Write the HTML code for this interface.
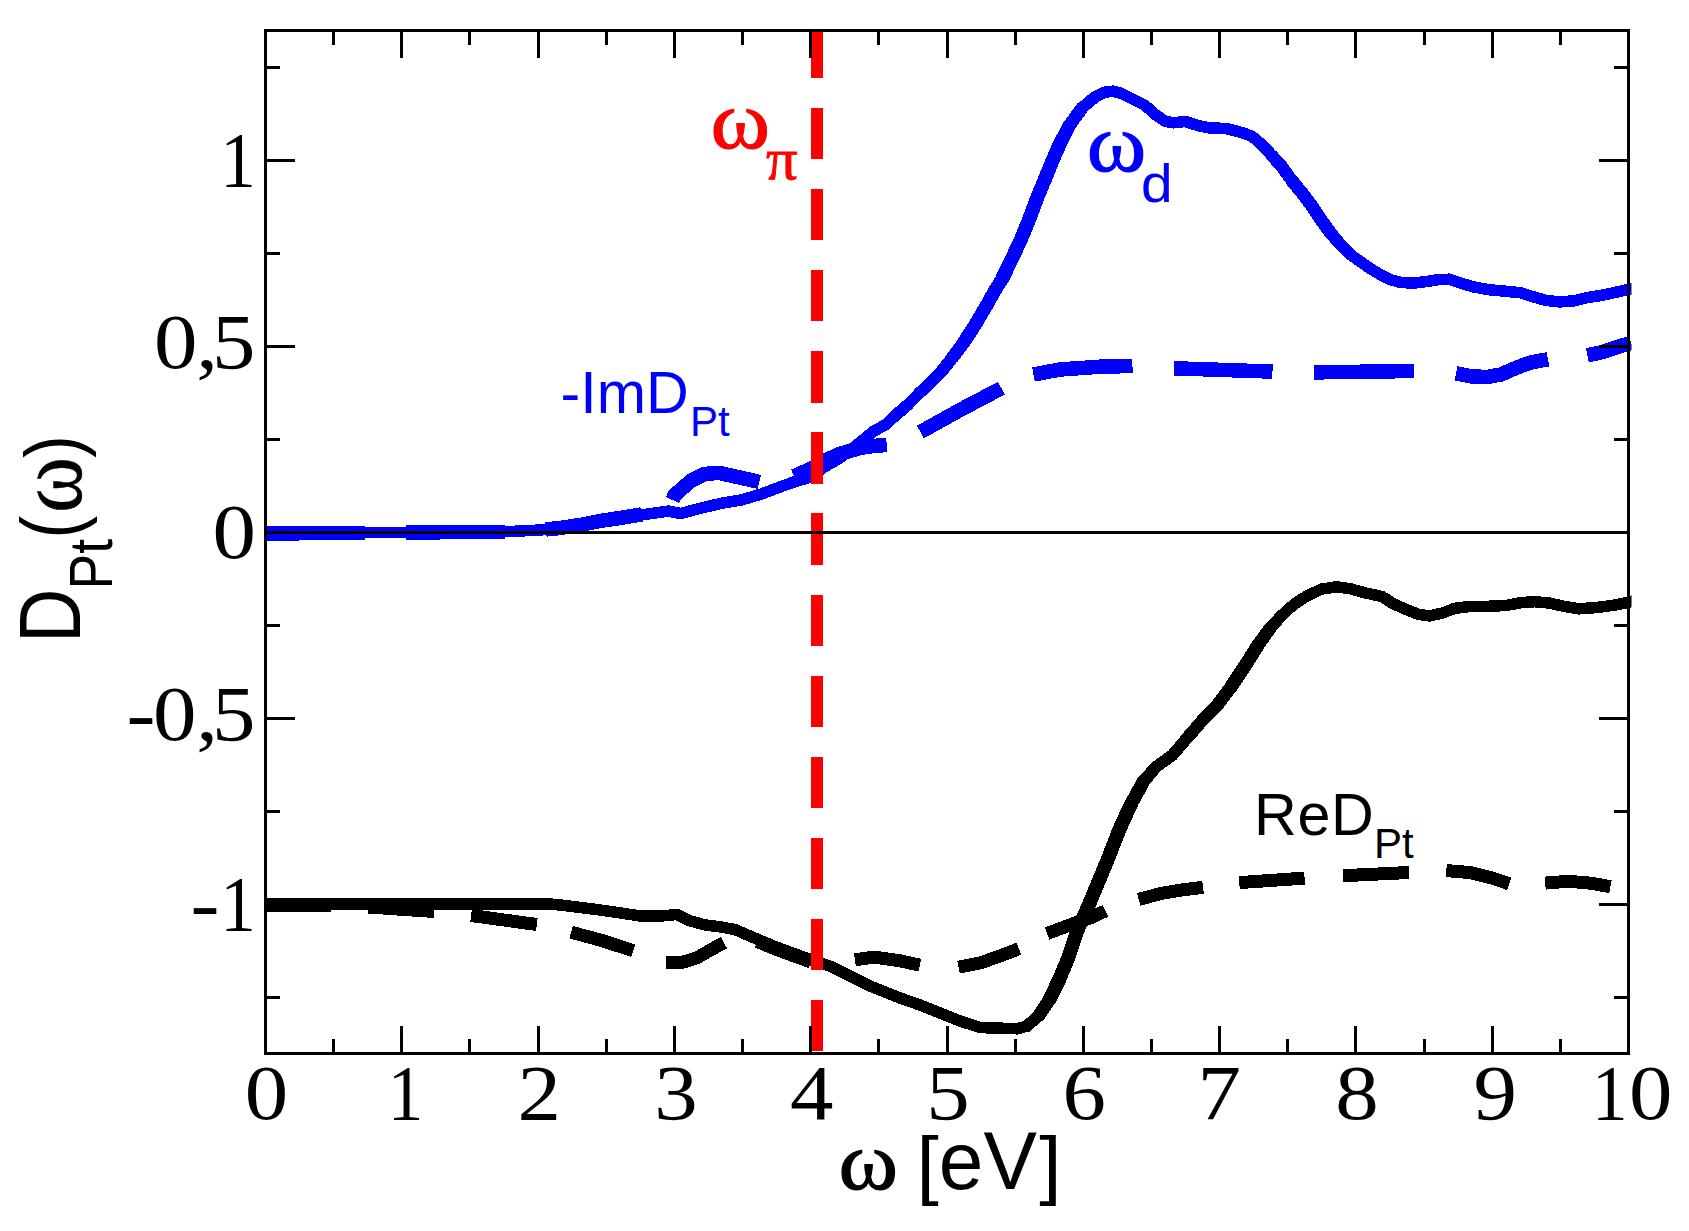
<!DOCTYPE html>
<html lang="en"><head><meta charset="utf-8"><title>D_Pt(omega)</title>
<style>html,body{margin:0;padding:0;background:#fff;}body{width:1689px;height:1231px;overflow:hidden;}svg{display:block;}.ser{font-family:"Liberation Serif",serif;}.san{font-family:"Liberation Sans",sans-serif;}</style></head><body>
<svg width="1689" height="1231" viewBox="0 0 1689 1231" shape-rendering="crispEdges">
<rect x="0" y="0" width="1689" height="1231" fill="#fff"/>
<defs><clipPath id="cc"><rect x="265.5" y="0" width="1366" height="1231"/></clipPath></defs>
<g clip-path="url(#cc)">
<path d="M265.5 905.0 L331.5 906.0" fill="none" stroke="#000" stroke-width="13" stroke-linejoin="round"/>
<path d="M368.1 907.0 L434.1 911.5" fill="none" stroke="#000" stroke-width="13" stroke-linejoin="round"/>
<path d="M471.1 915.5 L536.8 924.5" fill="none" stroke="#000" stroke-width="13" stroke-linejoin="round"/>
<path d="M571.1 932.2 L602.3 940.6 L633.3 950.9" fill="none" stroke="#000" stroke-width="13" stroke-linejoin="round"/>
<path d="M666.1 962.8 L680.8 962.8 L696.9 957.8 L711.0 949.7 L724.0 942.7" fill="none" stroke="#000" stroke-width="13" stroke-linejoin="round"/>
<path d="M757.3 941.5 L771.4 947.5 L791.5 955.0 L811.0 962.0" fill="none" stroke="#000" stroke-width="13" stroke-linejoin="round"/>
<path d="M854.9 959.8 L874.0 957.1 L900.1 960.8 L919.9 965.2" fill="none" stroke="#000" stroke-width="13" stroke-linejoin="round"/>
<path d="M958.5 967.2 L980.6 962.8 L1000.8 955.7 L1018.9 948.7" fill="none" stroke="#000" stroke-width="13" stroke-linejoin="round"/>
<path d="M1047.1 933.6 L1071.2 924.5 L1091.4 917.5 L1105.4 910.9" fill="none" stroke="#000" stroke-width="13" stroke-linejoin="round"/>
<path d="M1138.7 899.4 L1161.8 893.3 L1181.9 889.9 L1203.1 887.3" fill="none" stroke="#000" stroke-width="13" stroke-linejoin="round"/>
<path d="M1239.3 882.6 L1304.6 878.1" fill="none" stroke="#000" stroke-width="13" stroke-linejoin="round"/>
<path d="M1343.2 875.7 L1409.0 872.5" fill="none" stroke="#000" stroke-width="13" stroke-linejoin="round"/>
<path d="M1446.3 870.6 L1469.8 872.5 L1491.1 877.8 L1509.2 883.9" fill="none" stroke="#000" stroke-width="13" stroke-linejoin="round"/>
<path d="M1545.2 883.1 L1568.4 881.3 L1589.7 883.1 L1610.5 886.6" fill="none" stroke="#000" stroke-width="13" stroke-linejoin="round"/>
<path d="M255.0 904.2 L551.9 904.2 L560.0 905.0 L580.1 907.4 L600.3 910.0 L620.4 912.9 L640.5 916.1 L660.6 916.1 L676.7 914.5 L688.8 920.5 L704.9 924.9 L721.0 927.0 L735.1 929.6 L751.2 936.6 L771.4 945.1 L791.5 952.7 L817.0 961.8 L831.7 966.8 L851.9 976.9 L872.0 986.9 L900.1 998.0 L920.3 1005.1 L940.4 1013.1 L960.5 1021.2 L980.6 1027.6 L1000.8 1028.2 L1016.9 1028.8 L1026.9 1026.2" fill="none" stroke="#000" stroke-width="11.5" stroke-linejoin="round" stroke-linecap="round"/>
<path d="M1026.9 1026.2 L1039.0 1015.1" fill="none" stroke="#000" stroke-width="12.0" stroke-linejoin="round" stroke-linecap="round"/>
<path d="M1039.0 1015.1 L1049.8 999.0" fill="none" stroke="#000" stroke-width="13.0" stroke-linejoin="round" stroke-linecap="round"/>
<path d="M1049.8 999.0 L1059.5 978.9 L1068.7 956.7 L1077.3 930.6 L1087.3 908.4 L1097.4 884.3 L1107.5 860.1 L1119.0 830.5 L1131.2 803.7" fill="none" stroke="#000" stroke-width="14.0" stroke-linejoin="round" stroke-linecap="round"/>
<path d="M1131.2 803.7 L1143.4 781.8" fill="none" stroke="#000" stroke-width="13.5" stroke-linejoin="round" stroke-linecap="round"/>
<path d="M1143.4 781.8 L1155.6 767.2" fill="none" stroke="#000" stroke-width="12.5" stroke-linejoin="round" stroke-linecap="round"/>
<path d="M1155.6 767.2 L1172.6 755.0 L1187.2 737.9" fill="none" stroke="#000" stroke-width="12.0" stroke-linejoin="round" stroke-linecap="round"/>
<path d="M1187.2 737.9 L1201.9 720.9 L1216.5 706.2" fill="none" stroke="#000" stroke-width="12.5" stroke-linejoin="round" stroke-linecap="round"/>
<path d="M1216.5 706.2 L1231.1 686.7" fill="none" stroke="#000" stroke-width="13.0" stroke-linejoin="round" stroke-linecap="round"/>
<path d="M1231.1 686.7 L1245.7 664.8 L1257.9 645.3" fill="none" stroke="#000" stroke-width="13.5" stroke-linejoin="round" stroke-linecap="round"/>
<path d="M1257.9 645.3 L1270.1 628.2" fill="none" stroke="#000" stroke-width="13.0" stroke-linejoin="round" stroke-linecap="round"/>
<path d="M1270.1 628.2 L1282.3 614.8" fill="none" stroke="#000" stroke-width="12.0" stroke-linejoin="round" stroke-linecap="round"/>
<path d="M1282.3 614.8 L1294.5 603.9 L1306.7 596.1 L1321.3 589.2 L1335.9 586.8 L1350.5 588.8 L1365.2 592.9 L1382.2 596.6 L1393.3 603.8 L1406.5 609.6 L1418.1 614.3 L1429.7 615.9 L1443.0 612.9 L1454.6 608.3 L1469.5 606.6 L1487.8 606.3 L1506.0 605.5 L1520.9 602.7 L1534.2 601.7 L1549.1 603.0 L1562.4 606.0 L1579.0 608.8 L1595.5 607.6 L1612.1 605.5 L1625.4 603.0 L1640.0 599.0" fill="none" stroke="#000" stroke-width="11.5" stroke-linejoin="round" stroke-linecap="round"/>
<path d="M265.5 533.5 L364.6 532.8" fill="none" stroke="#0000ff" stroke-width="14.5" stroke-linejoin="round"/>
<path d="M406.0 532.5 L504.6 531.8" fill="none" stroke="#0000ff" stroke-width="14.5" stroke-linejoin="round"/>
<path d="M545.8 529.5 L560.0 528.0 L580.0 525.0 L600.0 521.0 L620.0 518.0 L641.5 514.5" fill="none" stroke="#0000ff" stroke-width="14.5" stroke-linejoin="round"/>
<path d="M672.5 500.0 L674.7 495.0 L690.8 480.9 L704.9 473.9 L719.0 472.9 L737.1 476.9 L759.3 481.9" fill="none" stroke="#0000ff" stroke-width="14.5" stroke-linejoin="round"/>
<path d="M794.0 476.2 L811.2 468.8 L823.1 461.4 L839.6 454.0 L851.0 450.5 L862.3 447.5 L874.0 446.0 L886.8 444.9" fill="none" stroke="#0000ff" stroke-width="14.5" stroke-linejoin="round"/>
<path d="M920.4 432.0 L960.0 410.0 L1001.4 388.2" fill="none" stroke="#0000ff" stroke-width="14.5" stroke-linejoin="round"/>
<path d="M1033.5 374.5 L1060.0 369.5 L1100.0 366.7 L1132.5 366.0" fill="none" stroke="#0000ff" stroke-width="14.5" stroke-linejoin="round"/>
<path d="M1174.0 368.3 L1272.5 371.6" fill="none" stroke="#0000ff" stroke-width="14.5" stroke-linejoin="round"/>
<path d="M1314.1 372.4 L1413.7 371.0" fill="none" stroke="#0000ff" stroke-width="14.5" stroke-linejoin="round"/>
<path d="M1456.0 373.4 L1471.1 376.4 L1487.2 377.0 L1501.3 374.4 L1517.4 367.3 L1531.5 362.3 L1548.0 359.3" fill="none" stroke="#0000ff" stroke-width="14.5" stroke-linejoin="round"/>
<path d="M1587.4 355.2 L1602.0 352.2 L1618.0 346.8 L1631.1 342.8" fill="none" stroke="#0000ff" stroke-width="14.5" stroke-linejoin="round"/>
<path d="M255.0 532.8 L480.0 532.6 L500.0 532.0 L520.0 531.0 L540.0 530.0 L560.0 528.4 L580.0 525.5 L600.3 521.2 L640.5 515.1 L668.7 511.1 L680.8 513.5 L700.9 508.1 L721.0 503.4 L741.2 500.0 L761.3 494.0 L781.4 486.5 L794.0 482.0 L811.2 476.9 L823.1 467.8 L839.6 458.0 L851.0 449.5 L862.3 440.6 L873.7 431.2 L886.2 424.3 L897.2 413.9" fill="none" stroke="#0000ff" stroke-width="11.5" stroke-linejoin="round" stroke-linecap="round"/>
<path d="M897.2 413.9 L908.4 404.3" fill="none" stroke="#0000ff" stroke-width="12.0" stroke-linejoin="round" stroke-linecap="round"/>
<path d="M908.4 404.3 L919.0 393.3" fill="none" stroke="#0000ff" stroke-width="11.5" stroke-linejoin="round" stroke-linecap="round"/>
<path d="M919.0 393.3 L929.4 384.0 L941.4 371.6" fill="none" stroke="#0000ff" stroke-width="12.0" stroke-linejoin="round" stroke-linecap="round"/>
<path d="M941.4 371.6 L952.5 357.5" fill="none" stroke="#0000ff" stroke-width="12.5" stroke-linejoin="round" stroke-linecap="round"/>
<path d="M952.5 357.5 L963.8 342.4" fill="none" stroke="#0000ff" stroke-width="13.0" stroke-linejoin="round" stroke-linecap="round"/>
<path d="M963.8 342.4 L975.0 325.0 L985.9 306.6 L994.0 292.0 L1002.3 278.5" fill="none" stroke="#0000ff" stroke-width="13.5" stroke-linejoin="round" stroke-linecap="round"/>
<path d="M1002.3 278.5 L1011.8 259.0 L1020.9 239.5 L1028.9 220.0 L1037.4 197.3 L1044.8 179.5 L1052.1 161.5 L1060.0 143.5" fill="none" stroke="#0000ff" stroke-width="14.0" stroke-linejoin="round" stroke-linecap="round"/>
<path d="M1060.0 143.5 L1069.1 125.8" fill="none" stroke="#0000ff" stroke-width="13.5" stroke-linejoin="round" stroke-linecap="round"/>
<path d="M1069.1 125.8 L1082.1 107.9" fill="none" stroke="#0000ff" stroke-width="13.0" stroke-linejoin="round" stroke-linecap="round"/>
<path d="M1082.1 107.9 L1094.7 97.2" fill="none" stroke="#0000ff" stroke-width="12.0" stroke-linejoin="round" stroke-linecap="round"/>
<path d="M1094.7 97.2 L1104.8 92.2 L1112.9 91.2 L1120.9 93.2 L1133.0 99.3 L1145.0 105.3 L1155.1 114.3 L1165.2 121.4 L1173.2 122.8 L1185.3 121.4 L1197.4 125.4 L1209.5 128.0 L1225.6 128.4 L1241.7 132.5 L1251.7 136.1 L1261.8 144.5" fill="none" stroke="#0000ff" stroke-width="11.5" stroke-linejoin="round" stroke-linecap="round"/>
<path d="M1261.8 144.5 L1271.9 155.6" fill="none" stroke="#0000ff" stroke-width="12.0" stroke-linejoin="round" stroke-linecap="round"/>
<path d="M1271.9 155.6 L1281.9 166.7 L1292.0 180.8" fill="none" stroke="#0000ff" stroke-width="12.5" stroke-linejoin="round" stroke-linecap="round"/>
<path d="M1292.0 180.8 L1302.0 192.9 L1310.0 203.3 L1320.1 218.4 L1330.2 232.5" fill="none" stroke="#0000ff" stroke-width="13.0" stroke-linejoin="round" stroke-linecap="round"/>
<path d="M1330.2 232.5 L1340.3 244.5" fill="none" stroke="#0000ff" stroke-width="12.5" stroke-linejoin="round" stroke-linecap="round"/>
<path d="M1340.3 244.5 L1350.3 254.6" fill="none" stroke="#0000ff" stroke-width="12.0" stroke-linejoin="round" stroke-linecap="round"/>
<path d="M1350.3 254.6 L1360.4 261.6 L1370.5 268.7 L1380.5 274.7 L1390.6 279.8 L1400.6 282.4 L1412.7 283.2 L1424.8 281.8 L1436.9 279.8 L1449.0 279.2 L1461.0 283.2 L1473.1 286.8 L1489.2 289.8 L1505.3 291.2 L1521.4 292.9 L1533.5 296.9 L1545.6 300.3 L1559.7 301.9 L1573.7 300.9 L1585.8 297.9 L1601.9 295.3 L1618.0 291.8 L1640.0 286.6" fill="none" stroke="#0000ff" stroke-width="11.5" stroke-linejoin="round" stroke-linecap="round"/>
</g>
<path d="M817 1051.3V30.5" fill="none" stroke="#ff0000" stroke-width="12" stroke-dasharray="51.3 29.8"/>
<line x1="265.5" y1="532.6" x2="1628.5" y2="532.6" stroke="#000" stroke-width="3"/>
<path d="M333.65 1053.20v-14.0M333.65 30.50v14.0M401.80 1053.20v-27.5M401.80 30.50v27.5M469.95 1053.20v-14.0M469.95 30.50v14.0M538.10 1053.20v-27.5M538.10 30.50v27.5M606.25 1053.20v-14.0M606.25 30.50v14.0M674.40 1053.20v-27.5M674.40 30.50v27.5M742.55 1053.20v-14.0M742.55 30.50v14.0M810.70 1053.20v-27.5M810.70 30.50v27.5M878.85 1053.20v-14.0M878.85 30.50v14.0M947.00 1053.20v-27.5M947.00 30.50v27.5M1015.15 1053.20v-14.0M1015.15 30.50v14.0M1083.30 1053.20v-27.5M1083.30 30.50v27.5M1151.45 1053.20v-14.0M1151.45 30.50v14.0M1219.60 1053.20v-27.5M1219.60 30.50v27.5M1287.75 1053.20v-14.0M1287.75 30.50v14.0M1355.90 1053.20v-27.5M1355.90 30.50v27.5M1424.05 1053.20v-14.0M1424.05 30.50v14.0M1492.20 1053.20v-27.5M1492.20 30.50v27.5M1560.35 1053.20v-14.0M1560.35 30.50v14.0M265.50 997.42h14.5M1628.50 997.42h-14.5M265.50 904.44h29.5M1628.50 904.44h-29.5M265.50 811.47h14.5M1628.50 811.47h-14.5M265.50 718.50h29.5M1628.50 718.50h-29.5M265.50 625.53h14.5M1628.50 625.53h-14.5M265.50 532.55h29.5M1628.50 532.55h-29.5M265.50 439.58h14.5M1628.50 439.58h-14.5M265.50 346.61h29.5M1628.50 346.61h-29.5M265.50 253.63h14.5M1628.50 253.63h-14.5M265.50 160.66h29.5M1628.50 160.66h-29.5M265.50 67.69h14.5M1628.50 67.69h-14.5" stroke="#000" stroke-width="3" fill="none"/>
<rect x="265.5" y="30.5" width="1363.0" height="1022.7" fill="none" stroke="#000" stroke-width="3"/>
<text class="ser" transform="translate(266.5 1119.3) scale(1.100 1)" font-size="79" text-anchor="middle" fill="#000">0</text>
<text class="ser" transform="translate(405.6 1119.3) scale(0.900 1)" font-size="79" text-anchor="middle" fill="#000">1</text>
<text class="ser" transform="translate(539.1 1119.3) scale(1.100 1)" font-size="79" text-anchor="middle" fill="#000">2</text>
<text class="ser" transform="translate(675.9 1119.3) scale(1.100 1)" font-size="79" text-anchor="middle" fill="#000">3</text>
<text class="ser" transform="translate(811.7 1119.3) scale(1.100 1)" font-size="79" text-anchor="middle" fill="#000">4</text>
<text class="ser" transform="translate(948.0 1119.3) scale(1.100 1)" font-size="79" text-anchor="middle" fill="#000">5</text>
<text class="ser" transform="translate(1084.3 1119.3) scale(1.100 1)" font-size="79" text-anchor="middle" fill="#000">6</text>
<text class="ser" transform="translate(1219.1 1119.3) scale(1.100 1)" font-size="79" text-anchor="middle" fill="#000">7</text>
<text class="ser" transform="translate(1356.9 1119.3) scale(1.100 1)" font-size="79" text-anchor="middle" fill="#000">8</text>
<text class="ser" transform="translate(1495.2 1119.3) scale(1.100 1)" font-size="79" text-anchor="middle" fill="#000">9</text>
<text class="ser" transform="translate(1609.7 1119.3) scale(0.900 1)" font-size="79" text-anchor="middle" fill="#000">1</text>
<text class="ser" transform="translate(1650.6 1119.3) scale(1.100 1)" font-size="79" text-anchor="middle" fill="#000">0</text>
<text class="ser" transform="translate(255.5 368.1) scale(1.100 1)" font-size="79" text-anchor="end" fill="#000">0<tspan dx="-0.91">,</tspan><tspan dx="-5.45">5</tspan></text>
<text class="ser" transform="translate(256.0 558.3) scale(1.100 1)" font-size="79" text-anchor="end" fill="#000">0</text>
<text class="ser" transform="translate(255.5 740.0) scale(1.100 1)" font-size="79" text-anchor="end" fill="#000">-<tspan dx="-2.27">0</tspan>,<tspan dx="-5.45">5</tspan></text>
<text class="ser" transform="translate(255.9 186.4) scale(0.900 1)" font-size="79" text-anchor="end" fill="#000">1</text>
<text class="ser" transform="translate(255.9 930.1) scale(0.900 1)" font-size="79" text-anchor="end" fill="#000">1</text>
<text class="ser" transform="translate(219.5 930.1) scale(1.100 1)" font-size="79" text-anchor="end" fill="#000">-</text>
<text class="ser" transform="translate(838.5 1189.0) scale(1.100 1.000)" font-size="82.2" fill="#000" stroke="#000" stroke-width="1.1">ω</text>
<text class="san" transform="translate(916.5 1189.6) scale(0.990 0.945)" font-size="81.0" fill="#000">[</text>
<text class="san" transform="translate(938.8 1189.0) scale(0.990 1.000)" font-size="81.0" fill="#000">eV</text>
<text class="san" transform="translate(1039.2 1189.6) scale(0.990 0.945)" font-size="81.0" fill="#000">]</text>
<text class="san" transform="translate(80.4 643.0) rotate(-90) scale(0.930 1.070)" font-size="81.0" fill="#000">D</text>
<text class="san" transform="translate(112.0 589.5) rotate(-90) scale(0.930 1.070)" font-size="57.5" fill="#000">Pt</text>
<text class="san" transform="translate(80.4 538.5) rotate(-90) scale(0.840 1.020)" font-size="81.0" fill="#000">(</text>
<text class="ser" transform="translate(81.0 513.0) rotate(-90) scale(1.000 1.090)" font-size="85.4" fill="#000" stroke="#000" stroke-width="0.4">ω</text>
<text class="san" transform="translate(80.4 458.0) rotate(-90) scale(0.840 0.950)" font-size="81.0" fill="#000">)</text>
<text class="ser" transform="translate(1086.7 170.5) scale(1.100 1.000)" font-size="82.2" fill="#0000ff" stroke="#0000ff" stroke-width="1.1">ω</text>
<text class="san" transform="translate(1141.0 201.8) scale(0.990 0.940)" font-size="57.5" fill="#0000ff">d</text>
<text class="ser" transform="translate(710.5 148.3) scale(1.100 1.000)" font-size="82.2" fill="#ff0000" stroke="#ff0000" stroke-width="1.1">ω</text>
<text class="ser" transform="translate(766.0 178.5) scale(1.060 1.000)" font-size="59.2" fill="#ff0000" stroke="#ff0000" stroke-width="0.8">π</text>
<text class="san" transform="translate(560.5 413.0) scale(1.000 1.000)" font-size="59.2" fill="#0000ff">-ImD</text>
<text class="san" transform="translate(690.0 435.6) scale(1.000 1.000)" font-size="42.0" fill="#0000ff">Pt</text>
<text class="san" transform="translate(1254.0 835.4) scale(1.000 1.000)" font-size="59.2" fill="#000" letter-spacing="0.7">ReD</text>
<text class="san" transform="translate(1374.0 858.0) scale(1.000 1.000)" font-size="42.0" fill="#000">Pt</text>
</svg></body></html>
